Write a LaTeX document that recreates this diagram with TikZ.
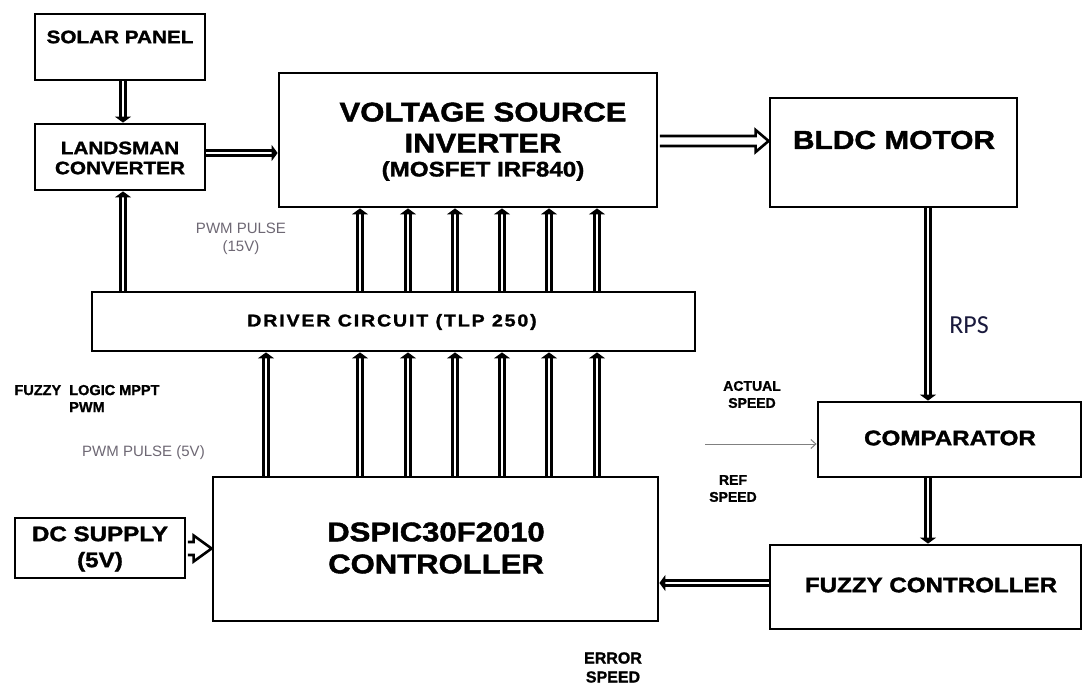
\documentclass[tikz,border=0pt]{standalone}
\usepackage{fontspec}
\setmainfont{Liberation Sans}
\newfontfamily\hv{Liberation Sans}[FakeStretch=1.15, BoldFeatures={FakeBold=1.6}]
\newfontfamily\hn{Liberation Sans}[BoldFeatures={FakeBold=1.2}]
\newfontfamily\cb{Carlito}
\usetikzlibrary{arrows.meta,calc}
\definecolor{gtext}{RGB}{110,104,116}
\definecolor{rpscol}{RGB}{25,25,60}
\newcommand{\fs}[2]{\fontsize{#1}{#2}\selectfont}
\begin{document}
\begin{tikzpicture}[x=1pt,y=-1pt,
  box/.style={draw, line width=2.8pt, inner sep=0pt, fill=white},
  lbl/.style={align=center, inner sep=0pt, font=\hv\bfseries},
  small/.style={align=center, inner sep=0pt, font=\hn\bfseries},
  grey/.style={align=center, inner sep=0pt, text=gtext, font=\hn},
  dbl/.style={double, double distance=2.4pt, line width=3pt, -{Triangle[length=6pt,width=16pt]}},
  blockarrow/.style={draw, line width=2.6pt, fill=white, line join=miter},
]
\useasboundingbox (0,0) rectangle (1083,684);
\fill[white] (0,0) rectangle (1083,684);

% boxes
\node[box, minimum width=170pt, minimum height=66pt] (solar) at (120,47) {};
\node[box, minimum width=170pt, minimum height=66pt] (landsman) at (120,157) {};
\node[box, minimum width=378pt, minimum height=134pt] (vsi) at (468,140) {};
\node[box, minimum width=247pt, minimum height=109pt] (bldc) at (893.5,152.5) {};
\node[box, minimum width=603pt, minimum height=59pt] (driver) at (393.5,321.5) {};
\node[box, minimum width=263pt, minimum height=75pt] (comp) at (949.5,439.5) {};
\node[box, minimum width=445pt, minimum height=144pt] (dspic) at (435.5,549) {};
\node[box, minimum width=170pt, minimum height=60pt] (dc) at (100,548) {};
\node[box, minimum width=311pt, minimum height=84pt] (fuzzy) at (925.5,587) {};

% box texts
\node[lbl, font=\hv\bfseries\fs{18}{20}] (solart) at (120,37) {SOLAR PANEL};
\node[lbl, font=\hv\bfseries\fs{18}{20}] (landsmant) at (120,158) {LANDSMAN\\CONVERTER};
\node[lbl, font=\hv\bfseries\fs{27}{31}] (vsit) at (483,127.5) {VOLTAGE SOURCE\\INVERTER};
\node[lbl, font=\hv\bfseries\fs{21}{24}] (vsim) at (483,171) {(MOSFET IRF840)};
\node[lbl, font=\hv\bfseries\fs{26}{28}] (bldct) at (894,140) {BLDC MOTOR};
\node[lbl, font=\hv\bfseries\fs{17}{20}\addfontfeature{LetterSpace=11}] (drivert) at (392,322) {DRIVER CIRCUIT (TLP 250)};
\node[lbl, font=\hv\bfseries\fs{21}{24}] (compt) at (950,438) {COMPARATOR};
\node[lbl, font=\hv\bfseries\fs{27}{32}] (dspict) at (436,548) {DSPIC30F2010\\CONTROLLER};
\node[lbl, font=\hv\bfseries\fs{21}{26}] (dct) at (100,549) {DC SUPPLY\\(5V)};
\node[lbl, font=\hv\bfseries\fs{21}{24}] (fuzzyt) at (931,585) {FUZZY CONTROLLER};

% free labels
\node[inner sep=0pt, text=rpscol, font=\cb\fs{26}{30}] (rps) at (969,325) {RPS};
\node[small, font=\hn\bfseries\fs{14}{17}] (actual) at (752,394.5) {ACTUAL\\SPEED};
\node[small, font=\hn\bfseries\fs{14}{17}] (ref) at (733,488.5) {REF\\SPEED};
\node[small, font=\hn\bfseries\fs{16}{19}] (error) at (613,667.5) {ERROR\\SPEED};
\node[small, font=\hn\bfseries\fs{14.5}{17}] (mppt) at (87,398.5) {FUZZY\ \ LOGIC MPPT\\PWM};
\node[grey, font=\hn\fs{15}{18}] (pwm15) at (241,239) {PWM PULSE\\(15V)};
\node[grey, font=\hn\fs{15}{18}] (pwm5) at (143.5,453) {PWM PULSE (5V)};

% reference coordinates
\coordinate (xa) at (123,0);
\coordinate (xb) at (928,0);
\coordinate (xc) at (266,0);
\coordinate (ya) at (0,153);
\coordinate (yb) at (0,583);
\coordinate (yc) at (0,141);
\coordinate (yd) at (0,548.5);
\coordinate (refin) at (705,444);

% connectors
\draw[dbl] (solar.south -| xa) -- (landsman.north -| xa);
\draw[dbl] (landsman.east |- ya) -- (vsi.west |- ya);
\draw[dbl] (driver.north -| xa) -- (landsman.south -| xa);
\foreach \i/\x in {1/360,2/408,3/455,4/502,5/549,6/597}{
  \coordinate (g\i) at (\x,0);
  \draw[dbl] (driver.north -| g\i) -- (vsi.south -| g\i);
  \draw[dbl] (dspic.north -| g\i) -- (driver.south -| g\i);
}
\draw[dbl] (dspic.north -| xc) -- (driver.south -| xc);
\draw[dbl] (bldc.south -| xb) -- (comp.north -| xb);
\draw[dbl] (comp.south -| xb) -- (fuzzy.north -| xb);
\draw[dbl] (fuzzy.west |- yb) -- (dspic.east |- yb);

% hollow block arrows
\draw[blockarrow]
  ($(vsi.east |- yc)+(1.4,-5)$) -- ($(bldc.west |- yc)+(-13,-5)$) -- ($(bldc.west |- yc)+(-13,-11)$)
  -- (bldc.west |- yc) -- ($(bldc.west |- yc)+(-13,11)$) -- ($(bldc.west |- yc)+(-13,5)$)
  -- ($(vsi.east |- yc)+(1.4,5)$);
\draw[blockarrow]
  ($(dc.east |- yd)+(1.4,-6.5)$) -- ($(dspic.west |- yd)+(-18,-6.5)$) -- ($(dspic.west |- yd)+(-18,-13)$)
  -- (dspic.west |- yd) -- ($(dspic.west |- yd)+(-18,13)$) -- ($(dspic.west |- yd)+(-18,6.5)$)
  -- ($(dc.east |- yd)+(1.4,6.5)$);

\draw[gray, line width=1pt, -{Straight Barb[length=5pt,width=9pt]}] (refin) -- (comp.west |- refin);
\end{tikzpicture}
\end{document}
